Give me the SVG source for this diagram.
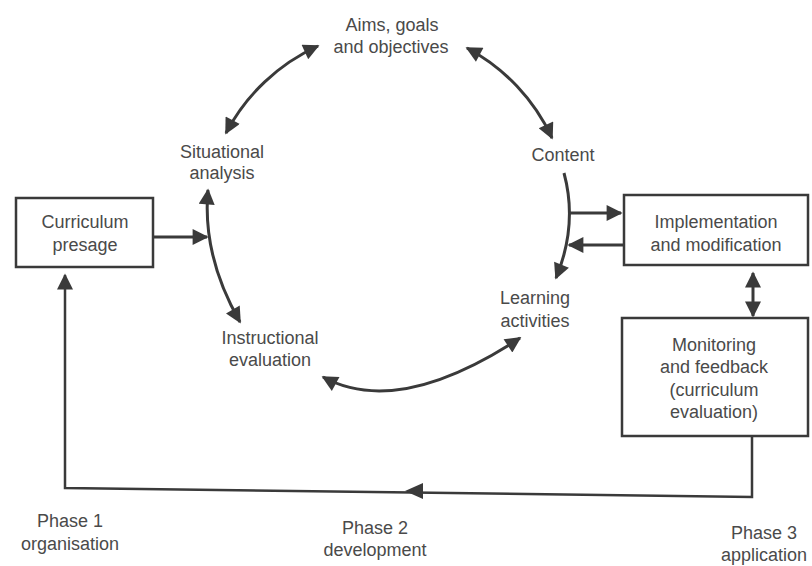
<svg xmlns="http://www.w3.org/2000/svg" width="812" height="566" viewBox="0 0 812 566">
<style>
text{font-family:"Liberation Sans",Arial,sans-serif;font-size:18px;fill:#4a4a4a;text-anchor:middle}
.ln{fill:none;stroke:#3a3a3a;stroke-width:3}
.bx{fill:#fff;stroke:#3a3a3a;stroke-width:2.5}
</style>
<defs>
<marker id="ah" viewBox="0 0 10 10" refX="9" refY="5" markerUnits="userSpaceOnUse" markerWidth="18" markerHeight="16" orient="auto-start-reverse">
<path d="M0,0 L10,5 L0,10 z" fill="#3a3a3a"/>
</marker>
</defs>
<rect width="812" height="566" fill="#fff"/>
<g id="connectors">
<path class="ln" d="M226,133 A195,195 0 0 1 318,46" marker-start="url(#ah)" marker-end="url(#ah)"/>
<path class="ln" d="M467,48 A195,195 0 0 1 552,138" marker-start="url(#ah)" marker-end="url(#ah)"/>
<path class="ln" d="M564,173 Q578,225 556,278" marker-end="url(#ah)"/>
<path class="ln" d="M208,190 Q202,256 240,322" marker-start="url(#ah)" marker-end="url(#ah)"/>
<path class="ln" d="M323,377 Q398,418 520,338" marker-start="url(#ah)" marker-end="url(#ah)"/>
<path class="ln" d="M153,237 L207,237" marker-end="url(#ah)"/>
<path class="ln" d="M570,213 L621,213" marker-end="url(#ah)"/>
<path class="ln" d="M625,245 L569,245" marker-end="url(#ah)"/>
<path class="ln" d="M753,273 L753,316" marker-start="url(#ah)" marker-end="url(#ah)"/>
<path class="ln" style="stroke-width:2.5" d="M752,436 L752,497 L65,488 L65,275" marker-end="url(#ah)"/>
<path d="M405,491 L423,483 L423,499 z" fill="#3a3a3a"/>
</g>
<g id="aims"><text x="392" y="31">Aims, goals</text><text x="391" y="53">and objectives</text></g>
<g id="situational"><text x="222" y="158">Situational</text><text x="222" y="179">analysis</text></g>
<g id="content"><text x="563" y="161">Content</text></g>
<g id="presage"><rect class="bx" x="16" y="198" width="137" height="69"/><text x="85" y="228">Curriculum</text><text x="85" y="251">presage</text></g>
<g id="implementation"><rect class="bx" x="624" y="195" width="184" height="70"/><text x="716" y="228">Implementation</text><text x="716" y="251">and modification</text></g>
<g id="monitoring"><rect class="bx" x="622" y="318" width="186" height="118"/><text x="714" y="351">Monitoring</text><text x="714" y="373">and feedback</text><text x="714" y="396">(curriculum</text><text x="714" y="418">evaluation)</text></g>
<g id="learning"><text x="535" y="304">Learning</text><text x="535" y="327">activities</text></g>
<g id="instructional"><text x="270" y="344">Instructional</text><text x="270" y="366">evaluation</text></g>
<g id="phase1"><text x="70" y="527">Phase 1</text><text x="70" y="550">organisation</text></g>
<g id="phase2"><text x="375" y="534">Phase 2</text><text x="375" y="556">development</text></g>
<g id="phase3"><text x="764" y="539">Phase 3</text><text x="764" y="561">application</text></g>
</svg>
